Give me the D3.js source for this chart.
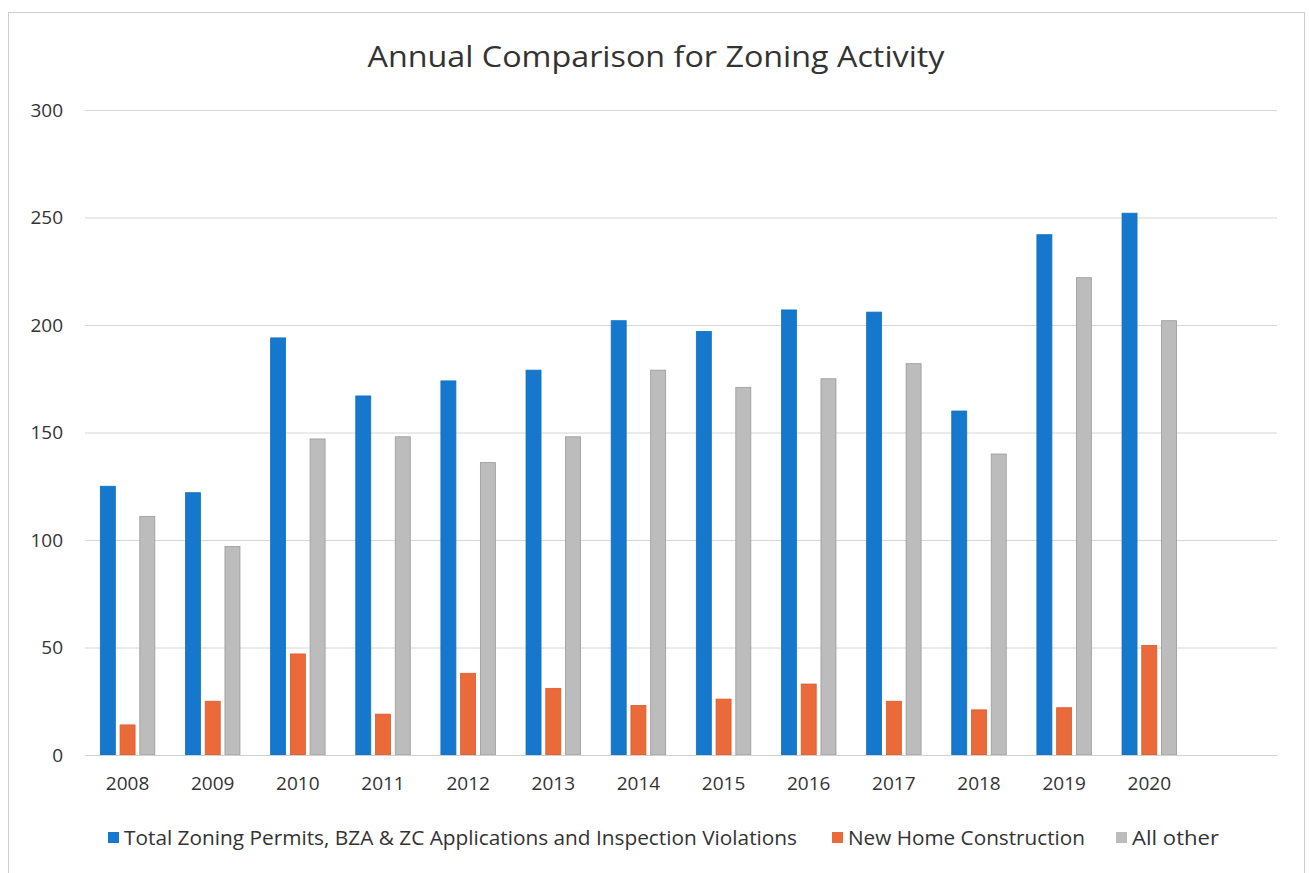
<!DOCTYPE html>
<html>
<head>
<meta charset="utf-8">
<script src="https://cdn.jsdelivr.net/npm/d3@7"></script>
<style>
  html, body { margin: 0; padding: 0; background: #fff; }
  svg { display: block; font-family: "Open Sans", "Noto Sans", sans-serif; }
</style>
</head>
<body>
<svg id="chart" width="1309" height="873"></svg>
<script>
// Annual Comparison for Zoning Activity - grouped bars

const years = ['2008', '2009', '2010', '2011', '2012', '2013', '2014', '2015', '2016', '2017', '2018', '2019', '2020', ''];
const seriesNames = [
  'Total Zoning Permits, BZA & ZC Applications and Inspection Violations',
  'New Home Construction',
  'All other'
];
const totalZoning = [125, 122, 194, 167, 174, 179, 202, 197, 207, 206, 160, 242, 252];
const newHomes = [14, 25, 47, 19, 38, 31, 23, 26, 33, 25, 21, 22, 51];
const allOther = [111, 97, 147, 148, 136, 148, 179, 171, 175, 182, 140, 222, 202];
const yTicks = [0, 50, 100, 150, 200, 250, 300];

const colors = ['#1578cc', '#ea6a3a', '#bcbcbc'];
const strokes = ['#1270c0', '#d95a2c', '#9a9a9a'];

const seriesValues = [totalZoning, newHomes, allOther];
const rows = [];
seriesValues.forEach((vals, s) => {
  vals.forEach((v, i) => rows.push({ year: years[i], series: s, value: v }));
});

const svg = d3.select('#chart');
const margin = { top: 110, right: 32, bottom: 118, left: 85 };
const width = 1309 - margin.left - margin.right;
const height = 873 - margin.top - margin.bottom;

// outer frame
svg.append('rect')
  .attr('x', 8.5)
  .attr('y', 12.5)
  .attr('width', 1296)
  .attr('height', 870)
  .attr('fill', 'none')
  .attr('stroke', '#cfcfcf')
  .attr('stroke-width', 1);

svg.append('text')
  .attr('x', 656)
  .attr('y', 67)
  .attr('text-anchor', 'middle')
  .attr('font-size', '30px')
  .attr('fill', '#333')
  .attr('textLength', 577)
  .attr('lengthAdjust', 'spacingAndGlyphs')
  .text('Annual Comparison for Zoning Activity');

const x = d3.scaleBand()
  .domain(years)
  .range([0, width])
  .paddingInner(0)
  .paddingOuter(0);

const x1 = d3.scaleBand()
  .domain([0, 1, 2])
  .range([x.bandwidth() * 0.18, x.bandwidth() * 0.82])
  .paddingInner(0.24);

const y = d3.scaleLinear()
  .domain([0, 300])
  .range([height, 0]);

const g = svg.append('g')
  .attr('transform', `translate(${margin.left},${margin.top})`);

// grid lines
g.append('g')
  .attr('class', 'grid')
  .call(d3.axisLeft(y).tickValues(yTicks).tickSize(-width).tickFormat(''))
  .call(sel => sel.select('.domain').remove())
  .call(sel => sel.selectAll('line').attr('stroke', '#d6d6d6').attr('stroke-width', 1));

// y labels
g.append('g')
  .attr('class', 'y-axis')
  .call(d3.axisLeft(y).tickValues(yTicks).tickSize(0).tickPadding(22))
  .call(sel => sel.select('.domain').remove())
  .call(sel => sel.selectAll('text')
    .attr('font-size', '19px')
    .attr('fill', '#333')
    .attr('font-family', '"Open Sans", sans-serif'));

g.selectAll('.bar')
  .data(rows)
  .enter()
  .append('rect')
  .attr('class', 'bar')
  .attr('x', d => x(d.year) + x1(d.series))
  .attr('y', d => y(d.value))
  .attr('width', x1.bandwidth())
  .attr('height', d => height - y(d.value))
  .attr('fill', d => colors[d.series])
  .attr('stroke', d => strokes[d.series])
  .attr('stroke-width', 0.8);

// x axis
g.append('g')
  .attr('class', 'x-axis')
  .attr('transform', `translate(0,${height})`)
  .call(d3.axisBottom(x).tickSize(0).tickPadding(22))
  .call(sel => sel.select('.domain').attr('stroke', '#d0d0d0'))
  .call(sel => sel.selectAll('text')
    .attr('font-size', '19px')
    .attr('fill', '#333')
    .attr('font-family', '"Open Sans", sans-serif'));

// legend
const legendItems = [
  { x: 108, w: 673 },
  { x: 832, w: 237 },
  { x: 1116, w: 87 }
];
const legend = svg.append('g').attr('class', 'legend');
seriesNames.forEach((name, i) => {
  const item = legend.append('g')
    .attr('transform', `translate(${legendItems[i].x},838)`);
  item.append('rect')
    .attr('x', 0)
    .attr('y', -6)
    .attr('width', 11)
    .attr('height', 11)
    .attr('fill', colors[i]);
  item.append('text')
    .attr('x', 16)
    .attr('y', 7)
    .attr('font-size', '20px')
    .attr('fill', '#333')
    .attr('textLength', legendItems[i].w)
    .attr('lengthAdjust', 'spacingAndGlyphs')
    .text(name);
});
</script>
</body>
</html>
